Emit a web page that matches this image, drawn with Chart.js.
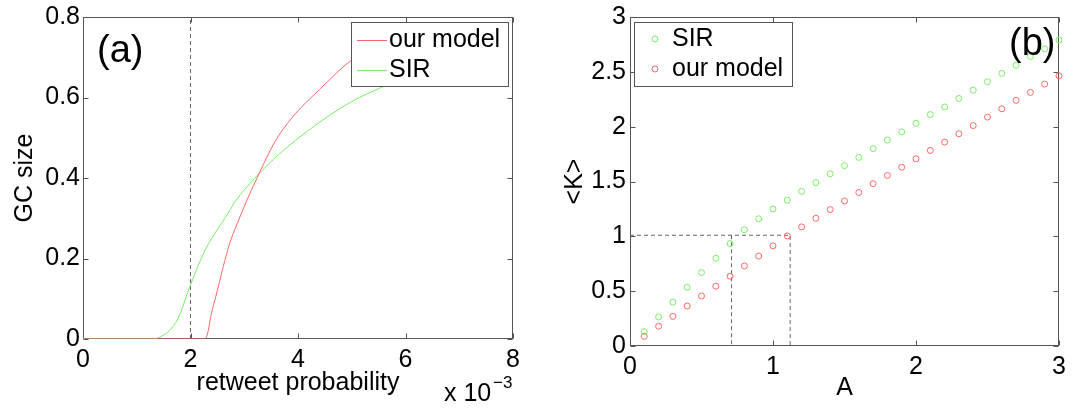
<!DOCTYPE html>
<html>
<head>
<meta charset="utf-8">
<script src="https://cdn.jsdelivr.net/npm/chart.js@4/dist/chart.umd.min.js"></script>
<style>
  html, body { margin: 0; padding: 0; background: #fff; }
  #wrap { position: relative; width: 1079px; height: 408px; overflow: hidden; }
  #left { position: absolute; left: 0; top: 0; }
  #right { position: absolute; left: 540px; top: 0; }
</style>
</head>
<body>
<div id="wrap">
  <canvas id="left" width="540" height="408"></canvas>
  <canvas id="right" width="539" height="408"></canvas>
</div>
<script>
// ---- panel (a): GC size vs retweet probability (x 10^-3)
const sirProbX   = [0, 1.3, 1.5, 1.65, 1.8, 1.9, 2.0, 2.15, 2.3, 2.45, 2.65, 2.85, 3.15, 3.55, 3.95, 4.45, 5.0, 5.5, 6.0];
const sirGC      = [0, 0, 0.01, 0.027, 0.06, 0.098, 0.134, 0.185, 0.228, 0.262, 0.302, 0.345, 0.393, 0.447, 0.493, 0.543, 0.59, 0.622, 0.65];
const modelProbX = [0, 2.25, 2.31, 2.39, 2.47, 2.61, 2.73, 2.87, 3.05, 3.22, 3.57, 3.8, 4.0, 4.3, 4.5, 5.0, 5.5];
const modelGC    = [0, 0, 0.01, 0.064, 0.105, 0.18, 0.238, 0.287, 0.345, 0.395, 0.49, 0.535, 0.567, 0.607, 0.633, 0.693, 0.725];
const thresholdProb = 2;
const aXTicks = [0, 2, 4, 6, 8];
const aYTicks = [0, 0.2, 0.4, 0.6, 0.8];

// ---- panel (b): <K> vs A
const A      = [0.1, 0.2, 0.3, 0.4, 0.5, 0.6, 0.7, 0.8, 0.9, 1.0, 1.1, 1.2, 1.3, 1.4, 1.5,
                1.6, 1.7, 1.8, 1.9, 2.0, 2.1, 2.2, 2.3, 2.4, 2.5, 2.6, 2.7, 2.8, 2.9, 3.0];
const sirK   = [0.13, 0.265, 0.40, 0.535, 0.67, 0.80, 0.934, 1.06, 1.16, 1.25, 1.33, 1.41, 1.49, 1.57, 1.645,
                1.72, 1.80, 1.877, 1.953, 2.03, 2.11, 2.18, 2.257, 2.333, 2.41, 2.486, 2.56, 2.64, 2.71, 2.79];
const modelK = [0.088, 0.18, 0.27, 0.365, 0.456, 0.545, 0.636, 0.73, 0.82, 0.913, 1.004, 1.086, 1.165, 1.244, 1.323,
                1.40, 1.48, 1.555, 1.63, 1.707, 1.783, 1.859, 1.935, 2.01, 2.087, 2.163, 2.24, 2.312, 2.388, 2.464];
const guideK = 1.01, guideA1 = 0.71, guideA2 = 1.12;
const bXTicks = [0, 1, 2, 3];
const bYTicks = [0, 0.5, 1, 1.5, 2, 2.5, 3];

const FONT = "'Liberation Sans', Arial, Helvetica, sans-serif";
const FS = 25;
const RED = '#ff6868', GREEN = '#78ee66', AXIS = '#555', DASH = '#666';

const pts = (xs, ys) => xs.map((x, i) => ({x, y: ys[i]}));

// MATLAB-like box with inward ticks, legend box and free text
const framePlugin = {
  id: 'frame',
  beforeDatasetsDraw(chart) {
    const {ctx, chartArea: a, scales} = chart;
    const L = Math.round(a.left) + 0.5, R = Math.round(a.right) - 0.5;
    const T = Math.round(a.top) + 0.5, B = Math.round(a.bottom) - 0.5;
    ctx.save();
    ctx.strokeStyle = AXIS; ctx.lineWidth = 1;
    ctx.strokeRect(L, T, R - L, B - T);
    ctx.beginPath();
    scales.x.ticks.forEach(t => {
      const px = Math.round(scales.x.getPixelForValue(t.value)) + 0.5;
      ctx.moveTo(px, B); ctx.lineTo(px, B - 5);
      ctx.moveTo(px, T); ctx.lineTo(px, T + 5);
    });
    scales.y.ticks.forEach(t => {
      const py = Math.round(scales.y.getPixelForValue(t.value)) + 0.5;
      ctx.moveTo(L, py); ctx.lineTo(L + 5, py);
      ctx.moveTo(R, py); ctx.lineTo(R - 5, py);
    });
    ctx.stroke();
    ctx.restore();
  },
  afterDatasetsDraw(chart, args, o) {
    const {ctx} = chart;
    ctx.save();
    const lg = o.legend;
    if (lg) {
      ctx.fillStyle = '#fff';
      ctx.fillRect(lg.x, lg.y, lg.w, lg.h);
      ctx.strokeStyle = AXIS; ctx.lineWidth = 1;
      ctx.strokeRect(lg.x + 0.5, lg.y + 0.5, lg.w, lg.h);
      ctx.font = FS + 'px ' + FONT;
      ctx.textBaseline = 'middle';
      lg.items.forEach((idx, i) => {
        const ds = chart.data.datasets[idx];
        const cy = lg.rows[i];
        ctx.strokeStyle = ds.borderColor;
        ctx.beginPath();
        if (lg.marker) ctx.arc(lg.sx, cy, 3, 0, Math.PI * 2);
        else { ctx.moveTo(lg.sx, cy + 0.5); ctx.lineTo(lg.sx + 30, cy + 0.5); }
        ctx.stroke();
        ctx.fillStyle = '#000';
        ctx.fillText(ds.label, lg.tx, cy);
      });
    }
    (o.texts || []).forEach(t => {
      ctx.font = t.size + 'px ' + FONT;
      ctx.textBaseline = 'alphabetic';
      ctx.fillStyle = '#000';
      ctx.fillText(t.text, t.x, t.y);
    });
    ctx.restore();
  }
};

function axis(min, max, tickVals, title, titlePad, tickPad, size) {
  return {
    type: 'linear', min, max,
    grid: {display: false, drawTicks: false},
    border: {display: false},
    ticks: {color: '#000', font: {family: FONT, size: FS}, padding: tickPad, autoSkip: false, maxRotation: 0,
            callback: v => String(v)},
    title: {display: true, text: title, color: '#000', font: {family: FONT, size: FS},
            padding: {top: titlePad, bottom: titlePad}},
    afterBuildTicks: s => { s.ticks = tickVals.map(v => ({value: v})); },
    afterFit: s => {
      if (s.isHorizontal()) { s.height = size; s.paddingLeft = 0; s.paddingRight = 0; }
      else { s.width = size; s.paddingTop = 0; s.paddingBottom = 0; }
    }
  };
}

new Chart(document.getElementById('left'), {
  type: 'line',
  data: {
    datasets: [
      {label: 'our model', data: pts(modelProbX, modelGC), borderColor: RED, borderWidth: 1,
       pointRadius: 0, cubicInterpolationMode: 'monotone', fill: false},
      {label: 'SIR', data: pts(sirProbX, sirGC), borderColor: GREEN, borderWidth: 1,
       pointRadius: 0, cubicInterpolationMode: 'monotone', fill: false},
      {label: 'threshold', data: [{x: thresholdProb, y: 0}, {x: thresholdProb, y: 0.8}], borderColor: DASH,
       borderWidth: 1, borderDash: [4, 3], pointRadius: 0, fill: false}
    ]
  },
  options: {
    responsive: false, animation: false, devicePixelRatio: 1,
    layout: {padding: {left: 0, top: 17, right: 27, bottom: 0}},
    scales: {
      x: axis(0, 8, aXTicks, 'retweet probability', 10, 6, 69),
      y: axis(0, 0.8, aYTicks, 'GC size', 10, 3, 83)
    },
    plugins: {
      legend: {display: false}, tooltip: {enabled: false},
      frame: {
        legend: {x: 351, y: 22, w: 157, h: 64, sx: 357, tx: 389, rows: [40, 70], items: [0, 1], marker: false},
        texts: [
          {text: '(a)', x: 97, y: 62, size: 38},
          {text: 'x 10', x: 444, y: 401, size: FS},
          {text: '\u22123', x: 493, y: 388, size: 17}
        ]
      }
    }
  },
  plugins: [framePlugin]
});

new Chart(document.getElementById('right'), {
  type: 'scatter',
  data: {
    datasets: [
      {label: 'SIR', data: pts(A, sirK), borderColor: GREEN, backgroundColor: 'rgba(0,0,0,0)',
       pointRadius: 3, pointBorderWidth: 1, showLine: false, clip: false},
      {label: 'our model', data: pts(A, modelK), borderColor: RED, backgroundColor: 'rgba(0,0,0,0)',
       pointRadius: 3, pointBorderWidth: 1, showLine: false, clip: false},
      {label: 'guide1', data: [{x: 0, y: guideK}, {x: guideA2, y: guideK}, {x: guideA2, y: 0}],
       borderColor: DASH, borderWidth: 1, borderDash: [4, 3], pointRadius: 0, showLine: true},
      {label: 'guide2', data: [{x: guideA1, y: guideK}, {x: guideA1, y: 0}],
       borderColor: DASH, borderWidth: 1, borderDash: [4, 3], pointRadius: 0, showLine: true}
    ]
  },
  options: {
    responsive: false, animation: false, devicePixelRatio: 1,
    layout: {padding: {left: 0, top: 17, right: 20, bottom: 0}},
    scales: {
      x: axis(0, 3, bXTicks, 'A', 5, 6, 62),
      y: axis(0, 3, bYTicks, '<K>', 20, 4, 90)
    },
    plugins: {
      legend: {display: false}, tooltip: {enabled: false},
      frame: {
        legend: {x: 94, y: 22, w: 158, h: 64, sx: 115, tx: 132, rows: [39, 69], items: [0, 1], marker: true},
        texts: [{text: '(b)', x: 469, y: 55, size: 38}]
      }
    }
  },
  plugins: [framePlugin]
});
</script>
</body>
</html>
